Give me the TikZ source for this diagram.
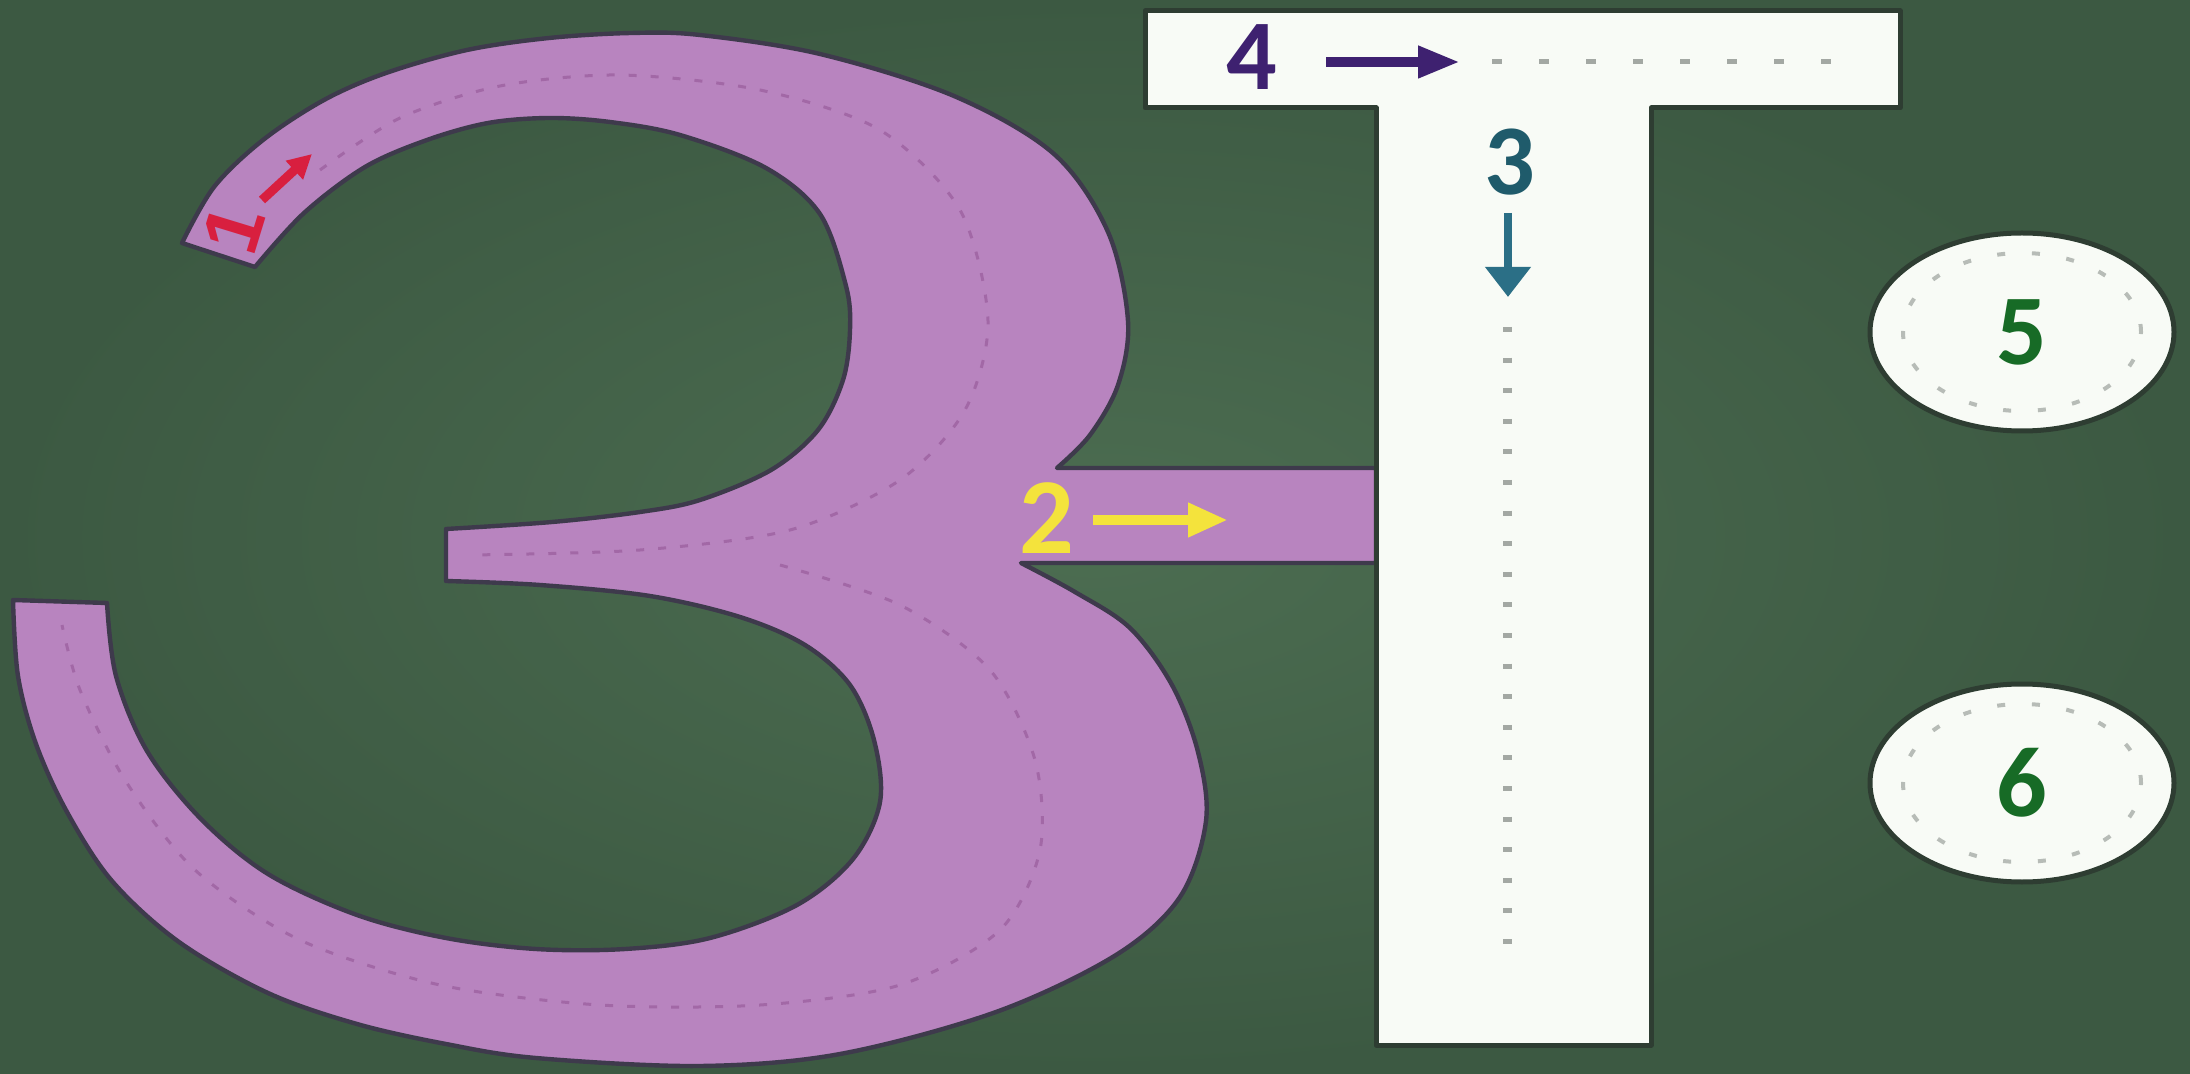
\documentclass[tikz,border=0pt]{standalone}
\usepackage{fontspec}
\setmainfont{Carlito}
\newfontfamily\onefont{Liberation Sans}
\usetikzlibrary{arrows.meta,shapes.geometric}
\definecolor{boardin}{HTML}{4C6D51}
\definecolor{boardout}{HTML}{3C5942}
\definecolor{pinkfill}{HTML}{B884BF}
\definecolor{pinkline}{HTML}{3E3A4C}
\definecolor{pinkdot}{HTML}{A268A6}
\definecolor{chalkwhite}{HTML}{F8FBF6}
\definecolor{shadowc}{HTML}{2E3D32}
\definecolor{guidegray}{HTML}{A3A8A3}
\definecolor{ringgray}{HTML}{B7BCB7}
\definecolor{numpurple}{HTML}{3E2170}
\definecolor{numteal}{HTML}{1F5B6B}
\definecolor{arrowteal}{HTML}{2B6F86}
\definecolor{numgreen}{HTML}{176B26}
\definecolor{numyellow}{HTML}{F4E33C}
\definecolor{numred}{HTML}{D81F3F}
\begin{document}
\begin{tikzpicture}[x=0.5pt,y=-0.5pt,
  digit/.style={inner sep=0pt, font=\bfseries\fontsize{50}{50}\selectfont},
  guideline/.style={draw=guidegray, line width=2.5pt, dash pattern=on 5pt off 18.5pt},
  stemguide/.style={draw=guidegray, line width=4.5pt, dash pattern=on 2.5pt off 12.8pt},
  pinkguide/.style={draw=pinkdot, line width=1.5pt, dash pattern=on 4pt off 7pt},
  chalk/.style={fill=chalkwhite, draw=shadowc, line width=2.5pt},
  ring/.style={draw=ringgray, line width=2pt, dash pattern=on 4pt off 13.4pt}
]
\useasboundingbox (0,0) rectangle (2190,1074);
\shade[inner color=boardin, outer color=boardout] (0,0) rectangle (2190,1074);

% the pink numeral 3 with its bar
\path[fill=pinkfill, draw=pinkline, line width=2.2pt, line join=round]
 plot[smooth, tension=0.55] coordinates {(182,243) (214,187) (263,140) (324,100) (386,73) (467,50) (549,38) (631,33) (700,35) (820,54) (954,96) (1054,154) (1108,232) (1128,321) (1118,385) (1090,435) (1057,468)}
 -- (1376,468) -- (1376,563) -- (1021,563)
 -- plot[smooth, tension=0.55] coordinates {(1021,563) (1075,592) (1130,628) (1172,685) (1198,752) (1206,821) (1180,897) (1116,955) (996,1012) (840,1054) (700,1066) (536,1058) (446,1044) (357,1024) (268,993) (179,942) (112,881) (67,812) (36,744) (18,676) (13,600)}
 -- plot[smooth, tension=0.55] coordinates {(107,603) (116,676) (147,751) (201,819) (268,874) (357,915) (446,938) (536,949) (625,949) (710,938) (797,905) (853,859) (880,802) (874,740) (850,685) (805,645) (740,617) (650,596) (540,585) (446,581)}
 -- (446,529)
 -- plot[smooth, tension=0.55] coordinates {(446,529) (552,522) (640,512) (700,500) (771,470) (818,430) (843,380) (850,330) (846,286) (820,214) (766,168) (680,135) (610,122) (549,118) (488,123) (427,140) (365,167) (304,213) (255,267)}
 -- cycle;

% dotted guides inside the 3
\draw[pinkguide] plot[smooth] coordinates {(320,170) (400,118) (500,86) (620,75) (760,90) (880,130) (960,210) (988,321) (965,410) (900,480) (790,530) (640,550) (470,555)};
\draw[pinkguide] plot[smooth] coordinates {(780,565) (900,605) (990,670) (1035,760) (1040,850) (1000,930) (900,985) (760,1005) (600,1005) (440,985) (300,940) (195,870) (125,780) (80,690) (62,625)};

% the T
\path[chalk, line join=round] (1145,11) -- (1900,11) -- (1900,108) -- (1651,108) -- (1651,1045) -- (1376,1045) -- (1376,108) -- (1145,108) -- cycle;

% step 1
\node[inner sep=0pt, text=numred, font=\onefont\bfseries\fontsize{40}{40}\selectfont, rotate=73] (n1) at (234,229) {1};
\coordinate (a1s) at (262,200);
\coordinate (a1e) at (312,154);
\draw[numred, line width=4.5pt, -{Triangle[length=12pt,width=12pt]}] (a1s) -- (a1e);

% step 2
\node[digit, text=numyellow, font=\bfseries\fontsize{54}{54}\selectfont] (n2) at (1047,518) {2};
\coordinate (a2s) at (1093,520);
\coordinate (a2e) at (1228,520);
\draw[numyellow, line width=5pt, -{Triangle[length=20pt,width=16pt]}] (a2s) -- (a2e);

% step 3
\node[digit, text=numteal] (n3) at (1510,162) {3};
\coordinate (a3s) at (1508,213);
\coordinate (a3e) at (1508,297);
\draw[arrowteal, line width=4pt, -{Triangle[length=15pt,width=22pt]}] (a3s) -- (a3e);
\coordinate (g3s) at (1507,327);
\coordinate (g3e) at (1507,955);
\draw[stemguide] (g3s) -- (g3e);

% step 4
\node[digit, text=numpurple] (n4) at (1252,57) {4};
\coordinate (a4s) at (1326,62);
\coordinate (a4e) at (1460,62);
\draw[numpurple, line width=5pt, -{Triangle[length=21pt,width=15pt]}] (a4s) -- (a4e);
\coordinate (g4s) at (1492,62);
\coordinate (g4e) at (1855,62);
\draw[guideline] (g4s) -- (g4e);

% circles 5 and 6
\node[ellipse, chalk, minimum width=152pt, minimum height=99pt, digit, text=numgreen] (c5) at (2022,332) {5};
\draw[ring] (c5.center) ellipse [x radius=59.5pt, y radius=39.5pt];
\node[ellipse, chalk, minimum width=152pt, minimum height=99pt, digit, text=numgreen] (c6) at (2022,783) {6};
\draw[ring] (c6.center) ellipse [x radius=59.5pt, y radius=39.5pt];
\end{tikzpicture}
\end{document}
